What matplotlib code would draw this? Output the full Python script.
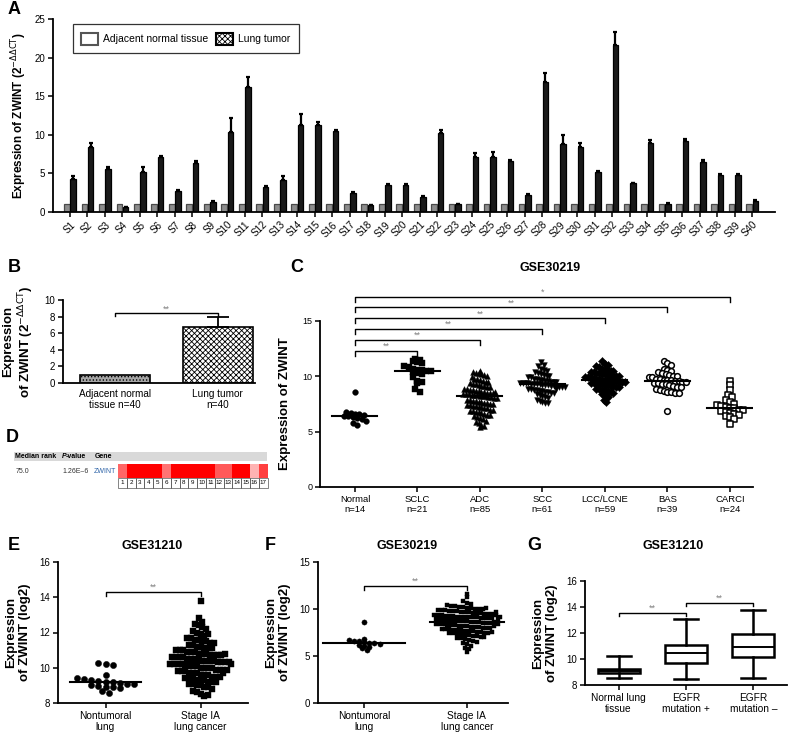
import numpy as np
import matplotlib
matplotlib.use('Agg')
import matplotlib.pyplot as plt
from matplotlib.patches import Patch, Rectangle
from matplotlib.colors import LinearSegmentedColormap

plt.rcParams['font.family'] = ['Liberation Sans', 'DejaVu Sans']
plt.rcParams['hatch.linewidth'] = 0.6

W, H = 788, 732

##
# Panel A: qPCR per sample
a_samples = ['S%d' % (i + 1) for i in range(40)]
a_normal = [1.0] * 40
a_tumor = [4.3, 8.4, 5.6, 0.65, 5.2, 7.1, 2.7, 6.4, 1.3, 10.3,
           16.2, 3.2, 4.2, 11.3, 11.3, 10.5, 2.5, 0.85, 3.5, 3.5,
           2.0, 10.2, 1.0, 7.1, 7.1, 6.6, 2.2, 16.8, 8.8, 8.4,
           5.2, 21.6, 3.7, 8.9, 1.1, 9.2, 6.5, 4.8, 4.8, 1.4]
a_tumor_err = [0.3, 0.5, 0.2, 0.05, 0.6, 0.15, 0.1, 0.15, 0.1, 1.9,
               1.3, 0.15, 0.4, 1.4, 0.4, 0.15, 0.1, 0.05, 0.1, 0.1,
               0.1, 0.4, 0.05, 0.5, 0.7, 0.1, 0.1, 1.2, 1.2, 0.6,
               0.1, 1.7, 0.1, 0.4, 0.05, 0.2, 0.2, 0.1, 0.1, 0.1]

# Panel B: means
b_labels = ['Adjacent normal\ntissue n=40', 'Lung tumor\nn=40']
b_means = [1.0, 6.8]
b_err = [0.0, 1.1]

# Panel C: GSE30219 histologic subtypes
c_groups = ['Normal', 'SCLC', 'ADC', 'SCC', 'LCC/LCNE', 'BAS', 'CARCI']
c_n = [14, 21, 85, 61, 59, 39, 24]
c_sig = ['**', '**', '**', '**', '**', '*']
c_normal = [8.6, 6.8, 6.7, 6.6, 6.6, 6.5, 6.4, 6.4, 6.3, 6.2, 6.1, 6.0, 5.8, 5.6]
c_sclc = [11.6, 11.5, 11.4, 11.3, 11.2, 10.9, 10.8, 10.7, 10.6, 10.6, 10.5,
          10.5, 10.4, 10.3, 10.2, 9.9, 9.6, 9.5, 9.4, 8.9, 8.6]
c_adc = [10.5, 10.4, 10.3, 10.3, 10.2, 10.1, 10.0, 9.9, 9.8, 9.8,
         9.7, 9.6, 9.5, 9.5, 9.4, 9.3, 9.3, 9.2, 9.1, 9.1,
         9.0, 9.0, 8.9, 8.9, 8.8, 8.8, 8.7, 8.7, 8.6, 8.6,
         8.5, 8.5, 8.5, 8.4, 8.4, 8.4, 8.3, 8.3, 8.3, 8.2,
         8.2, 8.2, 8.1, 8.1, 8.0, 8.0, 7.9, 7.9, 7.8, 7.8,
         7.7, 7.7, 7.6, 7.6, 7.5, 7.5, 7.4, 7.4, 7.3, 7.3,
         7.2, 7.2, 7.1, 7.1, 7.0, 7.0, 6.9, 6.9, 6.8, 6.8,
         6.7, 6.6, 6.5, 6.5, 6.4, 6.3, 6.2, 6.1, 6.0, 5.9,
         5.8, 5.6, 5.5, 5.4, 8.6]
c_scc = [11.3, 11.0, 10.9, 10.7, 10.6, 10.5, 10.4, 10.3, 10.2, 10.1,
         10.0, 10.0, 9.9, 9.9, 9.8, 9.8, 9.7, 9.7, 9.6, 9.6,
         9.5, 9.5, 9.5, 9.4, 9.4, 9.4, 9.4, 9.3, 9.3, 9.3,
         9.3, 9.2, 9.2, 9.2, 9.1, 9.1, 9.1, 9.0, 9.0, 9.0,
         8.9, 8.9, 8.8, 8.8, 8.7, 8.7, 8.6, 8.6, 8.5, 8.5,
         8.4, 8.3, 8.2, 8.1, 8.0, 7.9, 7.8, 7.7, 7.6, 7.6, 8.9]
c_lcc = [11.4, 11.1, 11.0, 10.9, 10.8, 10.7, 10.6, 10.6, 10.5, 10.5,
         10.4, 10.4, 10.3, 10.3, 10.2, 10.2, 10.1, 10.1, 10.0, 10.0,
         10.0, 9.9, 9.9, 9.9, 9.8, 9.8, 9.8, 9.7, 9.7, 9.7,
         9.6, 9.6, 9.6, 9.5, 9.5, 9.5, 9.4, 9.4, 9.4, 9.3,
         9.3, 9.2, 9.2, 9.1, 9.1, 9.0, 9.0, 8.9, 8.9, 8.8,
         8.8, 8.7, 8.6, 8.5, 8.4, 8.3, 8.1, 7.9, 7.7]
c_bas = [11.4, 11.2, 11.0, 10.7, 10.6, 10.5, 10.4, 10.3, 10.2, 10.1,
         10.0, 10.0, 9.9, 9.9, 9.8, 9.8, 9.7, 9.7, 9.7, 9.6,
         9.6, 9.5, 9.5, 9.4, 9.4, 9.3, 9.3, 9.2, 9.1, 9.0,
         9.0, 8.9, 8.8, 8.7, 8.6, 8.6, 8.5, 8.5, 6.9]
c_carci = [9.6, 9.2, 8.8, 8.3, 8.1, 7.9, 7.7, 7.5, 7.4, 7.3,
           7.2, 7.1, 7.1, 7.0, 7.0, 6.9, 6.8, 6.7, 6.6, 6.5,
           6.4, 6.3, 6.1, 5.7]

# Panel D: Oncomine meta-analysis row
d_header = ['Median rank', 'P-value', 'Gene']
d_row = ['75.0', '1.26E\u20136', 'ZWINT']
d_shades = [0.6, 1.0, 1.0, 1.0, 1.0, 0.55, 1.0, 1.0, 1.0, 1.0, 1.0,
            0.65, 0.65, 1.0, 1.0, 0.3, 0.75]

# Panel E: GSE31210
e_labels = ['Nontumoral\nlung', 'Stage IA\nlung cancer']
e_normal = [10.25, 10.2, 10.15, 9.6, 9.4, 9.35, 9.3, 9.25, 9.2, 9.2,
            9.15, 9.1, 9.1, 9.0, 8.95, 8.9, 8.9, 8.85, 8.7, 8.55]
e_stage1a = [13.8, 12.8, 12.6, 12.5, 12.4, 12.3, 12.1, 12.0, 11.9, 11.8,
             11.7, 11.7, 11.6, 11.6, 11.5, 11.5, 11.4, 11.4, 11.3, 11.3,
             11.2, 11.2, 11.1, 11.1, 11.1, 11.0, 11.0, 11.0, 10.9, 10.9,
             10.9, 10.8, 10.8, 10.8, 10.7, 10.7, 10.7, 10.7, 10.6, 10.6,
             10.6, 10.6, 10.5, 10.5, 10.5, 10.5, 10.4, 10.4, 10.4, 10.4,
             10.3, 10.3, 10.3, 10.3, 10.2, 10.2, 10.2, 10.2, 10.1, 10.1,
             10.1, 10.1, 10.0, 10.0, 10.0, 10.0, 9.9, 9.9, 9.9, 9.9,
             9.8, 9.8, 9.8, 9.7, 9.7, 9.7, 9.6, 9.6, 9.6, 9.5,
             9.5, 9.5, 9.4, 9.4, 9.4, 9.3, 9.3, 9.3, 9.2, 9.2,
             9.2, 9.1, 9.1, 9.0, 9.0, 8.9, 8.9, 8.8, 8.7, 8.6,
             8.5, 8.4, 8.45, 11.9, 12.2, 10.8, 10.2, 9.7]

# Panel F: GSE30219 stage IA
f_labels = ['Nontumoral\nlung', 'Stage IA\nlung cancer']
f_normal = c_normal
f_stage1a = [11.6, 11.3, 10.8, 10.6, 10.5, 10.4, 10.3, 10.3, 10.2, 10.2,
             10.1, 10.1, 10.0, 10.0, 10.0, 9.9, 9.9, 9.9, 9.8, 9.8,
             9.8, 9.7, 9.7, 9.7, 9.6, 9.6, 9.6, 9.5, 9.5, 9.5,
             9.4, 9.4, 9.4, 9.3, 9.3, 9.3, 9.2, 9.2, 9.2, 9.1,
             9.1, 9.1, 9.0, 9.0, 9.0, 8.9, 8.9, 8.9, 8.8, 8.8,
             8.8, 8.7, 8.7, 8.7, 8.6, 8.6, 8.6, 8.5, 8.5, 8.5,
             8.4, 8.4, 8.4, 8.3, 8.3, 8.3, 8.2, 8.2, 8.2, 8.1,
             8.1, 8.1, 8.0, 8.0, 8.0, 7.9, 7.9, 7.9, 7.8, 7.8,
             7.8, 7.7, 7.7, 7.7, 7.6, 7.6, 7.5, 7.5, 7.4, 7.4,
             7.3, 7.3, 7.2, 7.2, 7.1, 7.1, 7.0, 7.0, 6.9, 6.9,
             6.8, 6.7, 6.6, 6.5, 6.4, 6.3, 6.1, 5.9, 5.7, 5.4,
             9.0, 8.6, 8.2, 9.4, 10.1, 7.6, 8.9, 9.7, 8.4, 9.2]

# Panel G: GSE31210 EGFR status (box stats)
g_labels = ['Normal lung\ntissue', 'EGFR\nmutation +', 'EGFR\nmutation \u2013']
g_whislo = [8.55, 8.5, 8.55]
g_q1 = [8.9, 9.7, 10.15]
g_med = [9.1, 10.45, 10.9]
g_q3 = [9.25, 11.05, 11.9]
g_whishi = [10.25, 13.05, 13.8]


def add_px_axes(fig, x0, y0, x1, y1):
    # pixel box (top-left origin) -> figure fraction
    return fig.add_axes([x0 / W, 1 - y1 / H, (x1 - x0) / W, (y1 - y0) / H])


def prism_style(ax, fs=6.5):
    for side in ['top', 'right']:
        ax.spines[side].set_visible(False)
    for side in ['left', 'bottom']:
        ax.spines[side].set_linewidth(1.3)
    ax.tick_params(width=1.1, length=3.5, labelsize=fs, pad=2)


def sig_bracket(ax, x1, x2, y, drop, label, fs=6.5):
    ax.plot([x1, x1, x2, x2], [y - drop, y, y, y - drop], color='black',
            lw=1.0, clip_on=False)
    ax.text((x1 + x2) / 2.0, y, label, ha='center', va='bottom', fontsize=fs,
            color='#808080', clip_on=False)


def swarm_offsets(vals, dy, dx):
    vals = np.asarray(vals, dtype=float)
    rows = np.floor(vals / dy)
    offs = np.zeros(len(vals))
    for r in np.unique(rows):
        idx = np.where(rows == r)[0]
        k = len(idx)
        offs[idx] = (np.arange(k) - (k - 1) / 2.0) * dx
    return offs


def dot_group(ax, pos, vals, dy, dx, marker, filled, size, half):
    offs = swarm_offsets(vals, dy, dx)
    fc = 'black' if filled else 'white'
    ax.scatter(pos + offs, vals, s=size, marker=marker, facecolor=fc,
               edgecolor='black', linewidth=1.1 if not filled else 0.3,
               zorder=3, clip_on=False)
    med = np.median(vals)
    ax.plot([pos - half, pos + half], [med, med], color='black', lw=1.5,
            zorder=4)


fig = plt.figure(figsize=(W / 100.0, H / 100.0), dpi=100)

letters = [('A', 8, 10), ('B', 8, 268), ('C', 290, 268), ('D', 6, 438),
           ('E', 8, 546), ('F', 265, 546), ('G', 527, 546)]
for lab, x, y in letters:
    fig.text(x / W, 1 - y / H, lab, fontsize=13, fontweight='bold',
             ha='left', va='center')

##
# A
ax = add_px_axes(fig, 53, 19, 775, 212)
prism_style(ax, fs=7)
x = np.arange(len(a_samples))
n = len(a_samples)
ax.bar(x - 0.18, a_normal, 0.32, color='#8c8c8c', edgecolor='#4a4a4a', lw=0.9)
ax.bar(x + 0.18, a_tumor, 0.32, color='#1a1a1a', edgecolor='black', lw=0.9,
       yerr=[np.zeros(n), a_tumor_err], capsize=1.5,
       error_kw=dict(lw=1.6, capthick=1.6, ecolor='black'))
ax.set_xlim(-0.97, 40.3)
ax.set_ylim(0, 25)
ax.set_yticks([0, 5, 10, 15, 20, 25])
ax.set_xticks(x)
ax.set_xticklabels(a_samples, rotation=45, ha='right', rotation_mode='anchor',
                   fontsize=7)
ax.set_ylabel(r'Expression of ZWINT (2$^{-\Delta\Delta\mathrm{CT}}$)',
              fontsize=8.5, fontweight='bold', labelpad=4)
handles = [Patch(facecolor='white', edgecolor='#555555', lw=1.5),
           Patch(facecolor='white', edgecolor='black', hatch='xxxxxx', lw=1.5)]
leg = ax.legend(handles, ['Adjacent normal tissue', 'Lung tumor'], ncol=2,
                loc='upper left', bbox_to_anchor=(0.02, 1.0), fontsize=7.5,
                fancybox=False, edgecolor='black', handlelength=1.6,
                handleheight=1.4, columnspacing=0.8, handletextpad=0.5,
                borderpad=0.8)
leg.get_frame().set_linewidth(0.9)

##
# B
ax = add_px_axes(fig, 63, 300, 255, 383)
prism_style(ax, fs=7)
bx = np.arange(len(b_labels))
ax.bar(bx[0], b_means[0], 0.68, color='#a6a6a6', edgecolor='black', lw=1.2,
       hatch='.....')
ax.bar(bx[1], b_means[1], 0.68, color='white', edgecolor='black', lw=1.2,
       hatch='xxxxxx', yerr=[[0], [b_err[1]]], capsize=8,
       error_kw=dict(lw=1.3, capthick=1.3, ecolor='black'))
ax.set_xlim(-0.5, 1.36)
ax.set_ylim(0, 10)
ax.set_yticks([0, 2, 4, 6, 8, 10])
ax.set_xticks(bx)
ax.set_xticklabels(b_labels, fontsize=7.2)
ax.tick_params(axis='x', length=0, pad=4)
ax.set_ylabel('Expression\nof ZWINT (2$^{-\\Delta\\Delta\\mathrm{CT}}$)',
              fontsize=9.5, fontweight='bold', labelpad=6)
sig_bracket(ax, bx[0], bx[1], 8.4, 0.35, '**')

##
# C
ax = add_px_axes(fig, 320, 321, 753, 487)
prism_style(ax)
c_data = [c_normal, c_sclc, c_adc, c_scc, c_lcc, c_bas, c_carci]
c_markers = ['o', 's', '^', 'v', 'D', 'o', 's']
c_filled = [True, True, True, True, True, False, False]
c_dx = [0.07, 0.07, 0.045, 0.045, 0.045, 0.06, 0.07]
for i, vals in enumerate(c_data):
    dot_group(ax, i, vals, 0.5, c_dx[i], c_markers[i], c_filled[i], 17, 0.36)
ax.set_xlim(-0.56, 6.37)
ax.set_ylim(0, 15)
ax.set_yticks([0, 5, 10, 15])
ax.set_xticks(range(len(c_groups)))
ax.set_xticklabels(['%s\nn=%d' % (g, k) for g, k in zip(c_groups, c_n)],
                   fontsize=6.8)
ax.set_ylabel('Expression of ZWINT', fontsize=9.5, fontweight='bold',
              labelpad=8)
for i, s in enumerate(c_sig):
    sig_bracket(ax, 0, i + 1, 12.3 + 0.98 * i, 0.45, s)
fig.text(550 / W, 1 - 268 / H, 'GSE30219', fontsize=9, fontweight='bold',
         ha='center', va='center')

##
# D
ax = add_px_axes(fig, 10, 445, 275, 492)
ax.set_xlim(10, 275)
ax.set_ylim(492, 445)
ax.axis('off')
ax.add_patch(Rectangle((14, 451.7), 253, 9.3, color='#d9d9d9', lw=0))
ax.text(15, 456.5, d_header[0], fontsize=5, fontweight='bold', va='center')
ax.text(62, 456.5, 'P', fontsize=5, fontweight='bold', style='italic',
        va='center')
ax.text(65.3, 456.5, d_header[1][1:], fontsize=5, fontweight='bold',
        va='center')
ax.text(95, 456.5, d_header[2], fontsize=5, fontweight='bold', va='center')
ax.text(16, 471.5, d_row[0], fontsize=5, va='center', color='#333333')
ax.text(62, 471.5, d_row[1], fontsize=5, va='center', color='#333333')
ax.text(94, 471.5, d_row[2], fontsize=5, va='center', color='#2e64a8')
reds = LinearSegmentedColormap.from_list('reds', ['white', '#ff0000'])
cw = 8.8
for i, v in enumerate(d_shades):
    x0 = 118 + i * cw
    ax.add_patch(Rectangle((x0, 464.3), cw, 13.4, color=reds(float(v)), lw=0))
    ax.add_patch(Rectangle((x0, 477.7), cw, 10.6, fill=False,
                           edgecolor='#555555', lw=0.5))
    ax.text(x0 + cw / 2, 483, str(i + 1), fontsize=4.5, ha='center',
            va='center')

##
# E
ax = add_px_axes(fig, 58, 562, 248, 703)
prism_style(ax, fs=7)
dot_group(ax, 0, e_normal, 0.35, 0.075, 'o', True, 20, 0.37)
dot_group(ax, 1, e_stage1a, 0.38, 0.04, 's', True, 20, 0.34)
ax.set_xlim(-0.5, 1.5)
ax.set_ylim(8, 16)
ax.set_yticks([8, 10, 12, 14, 16])
ax.set_xticks([0, 1])
ax.set_xticklabels(e_labels, fontsize=7.3)
ax.set_ylabel('Expression\nof ZWINT (log2)', fontsize=9.5, fontweight='bold',
              labelpad=6)
sig_bracket(ax, 0, 1, 14.3, 0.25, '**')
fig.text(152 / W, 1 - 546 / H, 'GSE31210', fontsize=9, fontweight='bold',
         ha='center', va='center')

##
# F
ax = add_px_axes(fig, 318, 562, 508, 703)
prism_style(ax, fs=7)
dot_group(ax, 0, f_normal, 0.45, 0.05, 'o', True, 14, 0.4)
dot_group(ax, 1, f_stage1a, 0.5, 0.038, 's', True, 11, 0.36)
ax.set_xlim(-0.45, 1.4)
ax.set_ylim(0, 15)
ax.set_yticks([0, 5, 10, 15])
ax.set_xticks([0, 1])
ax.set_xticklabels(f_labels, fontsize=7.3)
ax.set_ylabel('Expression\nof ZWINT (log2)', fontsize=9.5, fontweight='bold',
              labelpad=6)
sig_bracket(ax, 0, 1, 12.5, 0.5, '**')
fig.text(407 / W, 1 - 546 / H, 'GSE30219', fontsize=9, fontweight='bold',
         ha='center', va='center')

##
# G
ax = add_px_axes(fig, 585, 581, 787, 685)
prism_style(ax, fs=7)
stats = []
for i in range(len(g_labels)):
    stats.append(dict(whislo=g_whislo[i], q1=g_q1[i], med=g_med[i],
                      q3=g_q3[i], whishi=g_whishi[i], fliers=[]))
bp = ax.bxp(stats, positions=range(len(g_labels)), widths=0.62,
            showfliers=False, patch_artist=True, capwidths=0.36,
            boxprops=dict(facecolor='white', lw=1.8),
            medianprops=dict(color='black', lw=1.4),
            whiskerprops=dict(lw=1.8), capprops=dict(lw=1.8))
bp['boxes'][0].set_facecolor('#c8c8c8')
ax.set_xlim(-0.5, 2.5)
ax.set_ylim(8, 16)
ax.set_yticks([8, 10, 12, 14, 16])
ax.set_xticks(range(len(g_labels)))
ax.set_xticklabels(g_labels, fontsize=7.3)
ax.set_ylabel('Expression\nof ZWINT (log2)', fontsize=9.5, fontweight='bold',
              labelpad=6)
sig_bracket(ax, 0, 1, 13.55, 0.25, '**')
sig_bracket(ax, 1, 2, 14.3, 0.25, '**')
fig.text(673 / W, 1 - 546 / H, 'GSE31210', fontsize=9, fontweight='bold',
         ha='center', va='center')

fig.savefig('out.png', dpi=100)
